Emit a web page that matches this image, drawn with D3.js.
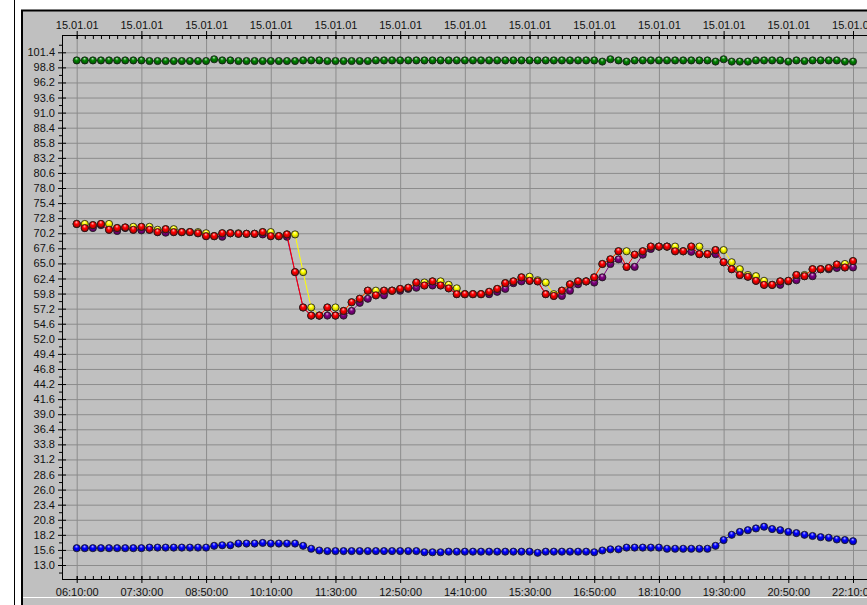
<!DOCTYPE html>
<html>
<head>
<meta charset="utf-8">
<script src="https://cdn.jsdelivr.net/npm/d3@7"></script>
<style>
  body { margin: 0; background: #fff; }
  svg { display: block; }
  text { font-family: "Liberation Sans", Arial, sans-serif; font-size: 11px; fill: #111; }
</style>
</head>
<body>
<svg width="867" height="605"></svg>
<script>
// readings every 10 minutes, 15.01.01 06:10 .. 22:10
var startTime = "2001-01-15 06:10";
var stepMinutes = 10;

var xTickLabels = ["06:10:00", "07:30:00", "08:50:00", "10:10:00", "11:30:00", "12:50:00", "14:10:00",
  "15:30:00", "16:50:00", "18:10:00", "19:30:00", "20:50:00", "22:10:00"];

var yTicks = [13.0, 15.6, 18.2, 20.8, 23.4, 26.0, 28.6, 31.2, 33.8, 36.4, 39.0, 41.6, 44.2, 46.8, 49.4,
  52.0, 54.6, 57.2, 59.8, 62.4, 65.0, 67.6, 70.2, 72.8, 75.4, 78.0, 80.6, 83.2, 85.8, 88.4, 91.0,
  93.6, 96.2, 98.8, 101.4];

var green = [100.0, 100.0, 100.0, 100.0, 100.0, 100.0, 100.0, 100.0, 100.0,
  99.9, 99.9, 99.9, 99.9, 99.9, 99.9, 99.9, 99.9,
  100.2, 100.0, 100.0,
  99.9, 99.9, 99.9, 99.9, 99.9, 99.9, 99.9, 99.9,
  100.0, 100.0, 100.0,
  99.9, 99.9, 99.9, 99.9, 99.9, 99.9,
  100.0, 100.0, 100.0, 100.0, 100.0, 100.0, 100.0, 100.0,
  100.0, 100.0, 100.0, 100.0, 100.0, 100.0, 100.0, 100.0, 100.0, 100.0,
  100.0, 100.0, 100.0, 100.0, 100.0, 100.0, 100.0, 100.0, 100.0, 100.0,
  99.8, 100.2, 100.0, 99.8,
  100.0, 100.0, 100.0, 100.0, 100.0, 100.0, 100.0, 100.0, 100.0, 100.0,
  99.8, 100.2, 99.8, 99.8, 99.8,
  100.0, 100.0, 100.0, 100.0,
  99.8, 100.0, 99.9,
  100.0, 100.0, 100.0, 100.0,
  99.8, 99.8];

var blue = [15.9, 15.9, 15.9, 15.9, 15.9, 15.9, 15.9, 15.9, 15.9,
  16.0, 16.0, 16.0, 16.0, 16.0, 16.0, 16.0, 16.0,
  16.3, 16.4, 16.4, 16.7, 16.7, 16.7, 16.8, 16.7, 16.7, 16.7, 16.7,
  16.3, 15.8, 15.5,
  15.4, 15.4, 15.4, 15.4, 15.4, 15.4, 15.4, 15.4, 15.4, 15.4, 15.4, 15.4,
  15.2, 15.2, 15.2,
  15.3, 15.3, 15.3, 15.3, 15.3, 15.3, 15.3, 15.3, 15.3, 15.3, 15.3,
  15.1, 15.3, 15.3, 15.3, 15.3, 15.3, 15.3,
  15.2, 15.5, 15.7, 15.7, 16.0, 16.0, 16.0, 16.0, 16.0,
  15.8, 15.8, 15.8, 15.8, 15.8, 15.8, 16.3,
  17.3, 18.2, 18.7, 19.0, 19.3, 19.6, 19.2, 19.0, 18.7, 18.5, 18.2, 18.0, 17.8, 17.7, 17.4, 17.3, 17.1];

var purple = [71.8, 71.1, 71.1, 71.6, 70.8, 70.6, 71.1, 70.8, 70.7, 70.8,
  70.4, 70.3, 70.4, 70.4, 70.4, 70.2, 69.7, 69.7, 69.6, 70.2,
  70.1, 70.1, 70.1, 70.0, 69.7, 69.7, 69.6, 63.5, 57.4, 56.0,
  56.0, 56.0, 56.0, 56.0, 56.8, 58.2, 58.9, 59.5, 59.5, 60.3,
  60.3, 60.6, 60.8, 61.2, 61.2, 61.2, 60.7, 59.7, 59.7, 59.7,
  59.7, 59.7, 60.1, 60.6, 61.6, 61.9, 62.0, 61.9, 59.7, 59.4,
  59.4, 60.3, 61.4, 61.9, 61.7, 62.6, 64.9, 65.7, 64.4, 64.4,
  66.5, 67.5, 67.9, 67.9, 67.1, 67.1, 67.0, 66.6, 66.6, 66.6,
  65.2, 64.0, 63.0, 62.7, 62.0, 61.3, 61.3, 61.3, 61.9, 62.1,
  62.8, 62.8, 64.0, 64.0, 64.2, 64.3, 64.3];

var yellow = [71.8, 71.8, 71.6, 71.8, 71.8, 71.1, 71.2, 71.3, 71.3, 71.3,
  70.8, 70.9, 70.9, 70.4, 70.4, 70.4, 70.2, 69.7, 70.2, 70.2,
  70.2, 70.1, 70.1, 70.4, 70.4, 69.7, 70.0, 70.0, 63.5, 57.4,
  56.0, 57.4, 57.4, 56.8, 58.3, 58.9, 60.3, 60.3, 60.3, 60.3,
  60.6, 60.8, 61.7, 61.7, 61.9, 61.9, 61.3, 60.7, 59.7, 59.7,
  59.7, 60.1, 60.6, 61.6, 61.9, 62.6, 62.7, 62.1, 61.7, 59.7,
  60.3, 61.4, 61.9, 61.9, 62.6, 64.9, 65.7, 67.1, 67.1, 66.5,
  67.1, 67.9, 67.9, 67.9, 67.9, 67.1, 67.9, 67.9, 66.6, 67.3,
  67.3, 65.2, 64.0, 63.0, 62.8, 62.0, 61.3, 61.9, 62.0, 63.0,
  63.0, 64.0, 64.0, 64.2, 64.8, 64.9, 65.4];

var red = [71.8, 71.1, 71.6, 71.8, 70.8, 71.1, 71.2, 70.8, 71.3, 70.8,
  70.4, 70.9, 70.4, 70.4, 70.4, 70.2, 69.7, 69.7, 70.2, 70.2,
  70.1, 70.1, 70.1, 70.4, 69.7, 69.7, 70.0, 63.5, 57.4, 56.0,
  56.0, 57.4, 56.0, 56.8, 58.3, 58.9, 60.3, 59.5, 60.3, 60.3,
  60.6, 60.8, 61.7, 61.2, 61.9, 61.2, 60.7, 59.7, 59.7, 59.7,
  59.7, 60.1, 60.6, 61.6, 61.9, 62.6, 62.0, 61.9, 59.7, 59.4,
  60.3, 61.4, 61.9, 61.9, 62.6, 64.9, 65.7, 67.1, 64.4, 66.5,
  67.1, 67.9, 67.9, 67.9, 67.1, 67.1, 67.9, 66.6, 66.6, 67.3,
  65.2, 64.0, 63.0, 62.7, 62.0, 61.3, 61.3, 61.9, 62.0, 63.0,
  62.8, 64.0, 64.0, 64.2, 64.8, 64.3, 65.4];

var svg = d3.select("svg"),
  width = 867,
  height = 605;

// plot frame
var plotLeft = 62, plotTop = 35, plotBottom = 579, plotRight = width;

var parseStart = d3.timeParse("%Y-%m-%d %H:%M");
var parseTick = d3.timeParse("%Y-%m-%d %H:%M:%S");
var t0 = parseStart(startTime);
var times = red.map(function (d, i) { return d3.timeMinute.offset(t0, i * stepMinutes); });
var xMajor = xTickLabels.map(function (s) { return parseTick("2001-01-15 " + s); });

var x = d3.scaleTime()
  .domain([xMajor[0], xMajor[xMajor.length - 1]])
  .range([76.7, 853]);

var y = d3.scaleLinear()
  .domain([13.0, 101.4])
  .range([565, 52.3]);

// window panel
svg.append("rect").attr("x", 22).attr("y", 10).attr("width", width - 22).attr("height", height - 10)
  .attr("fill", "#c0c0c0");
svg.append("line").attr("x1", 14.5).attr("x2", 14.5).attr("y1", 0).attr("y2", height)
  .attr("stroke", "#000");
svg.append("line").attr("x1", 21).attr("x2", width).attr("y1", 10.5).attr("y2", 10.5)
  .attr("stroke", "#000").attr("stroke-width", 2);
svg.append("line").attr("x1", 22).attr("x2", 22).attr("y1", 10).attr("y2", height)
  .attr("stroke", "#000").attr("stroke-width", 2);
svg.append("line").attr("x1", 23).attr("x2", width).attr("y1", 597.5).attr("y2", 597.5)
  .attr("stroke", "#fff");

// gradients for the ball markers
var defs = svg.append("defs");
var series = [
  { key: "green", values: green, color: "#008000", line: "#008000" },
  { key: "blue", values: blue, color: "#0000ff", line: "#0000ff" },
  { key: "purple", values: purple, color: "#800080", line: "#800080" },
  { key: "yellow", values: yellow, color: "#ffff00", line: "#ffff00" },
  { key: "red", values: red, color: "#ff0000", line: "#ff0000" }
];
series.forEach(function (s) {
  var g = defs.append("radialGradient").attr("id", "ball-" + s.key)
    .attr("cx", "50%").attr("cy", "45%").attr("r", "60%")
    .attr("fx", "45%").attr("fy", "22%");
  g.append("stop").attr("offset", "0%").attr("stop-color", d3.interpolateRgb(s.color, "#fff")(0.75));
  g.append("stop").attr("offset", "40%").attr("stop-color", s.color);
  g.append("stop").attr("offset", "100%").attr("stop-color", d3.color(s.color).darker(1.3));
});

// grid
svg.append("g")
  .attr("transform", "translate(0," + plotBottom + ")")
  .call(d3.axisBottom(x).tickValues(xMajor).tickSize(-(plotBottom - plotTop)).tickFormat(""))
  .call(function (g) { g.select(".domain").remove(); })
  .selectAll(".tick line").attr("stroke", "#8c8c8c");

svg.append("g")
  .attr("transform", "translate(" + plotLeft + ",0)")
  .call(d3.axisLeft(y).tickValues(yTicks).tickSize(-(plotRight - plotLeft)).tickFormat(""))
  .call(function (g) { g.select(".domain").remove(); })
  .selectAll(".tick line").attr("stroke", "#8c8c8c");

// axis lines
svg.append("line").attr("x1", plotLeft + 0.5).attr("x2", plotLeft + 0.5)
  .attr("y1", plotTop).attr("y2", plotBottom + 0.5).attr("stroke", "#000");
svg.append("line").attr("x1", plotLeft).attr("x2", plotRight)
  .attr("y1", plotTop + 0.5).attr("y2", plotTop + 0.5).attr("stroke", "#000");
svg.append("line").attr("x1", plotLeft).attr("x2", plotRight)
  .attr("y1", plotBottom + 0.5).attr("y2", plotBottom + 0.5).attr("stroke", "#000");

// minor ticks
var yMinor = [11.7].concat(yTicks.map(function (v) { return v + 1.3; }));

svg.append("g")
  .attr("transform", "translate(0," + plotBottom + ")")
  .call(d3.axisBottom(x).tickValues(times).tickSize(-3).tickFormat(""))
  .call(function (g) { g.select(".domain").remove(); });

svg.append("g")
  .attr("transform", "translate(0," + plotTop + ")")
  .call(d3.axisTop(x).tickValues(times).tickSize(-4).tickFormat(""))
  .call(function (g) { g.select(".domain").remove(); });

svg.append("g")
  .attr("transform", "translate(" + plotLeft + ",0)")
  .call(d3.axisLeft(y).tickValues(yMinor).tickSize(3).tickFormat(""))
  .call(function (g) { g.select(".domain").remove(); });

// major axes with labels
var xBottom = svg.append("g")
  .attr("transform", "translate(0," + plotBottom + ")")
  .call(d3.axisBottom(x).tickValues(xMajor).tickSize(4).tickPadding(5)
    .tickFormat(d3.timeFormat("%H:%M:%S")));
xBottom.select(".domain").remove();
xBottom.selectAll(".tick line").attr("y1", -3).attr("y2", 4).attr("stroke", "#000");

var xTop = svg.append("g")
  .attr("transform", "translate(0," + plotTop + ")")
  .call(d3.axisTop(x).tickValues(xMajor).tickSize(4).tickPadding(2)
    .tickFormat(d3.timeFormat("%d.%m.%y")));
xTop.select(".domain").remove();
xTop.selectAll(".tick line").attr("y1", -4).attr("y2", 4).attr("stroke", "#000");

var yLeft = svg.append("g")
  .attr("transform", "translate(" + plotLeft + ",0)")
  .call(d3.axisLeft(y).tickValues(yTicks).tickSize(4).tickPadding(3)
    .tickFormat(d3.format(".1f")));
yLeft.select(".domain").remove();
yLeft.selectAll(".tick line").attr("x1", -4).attr("x2", 4).attr("stroke", "#000");

svg.selectAll(".tick text").attr("fill", "#111")
  .style("font-family", '"Liberation Sans", Arial, sans-serif').style("font-size", "11px");

// series: line then balls
var line = d3.line()
  .x(function (d, i) { return x(times[i]); })
  .y(function (d) { return y(d); });

series.forEach(function (s) {
  var g = svg.append("g").attr("class", "series-" + s.key);
  g.append("path")
    .datum(s.values)
    .attr("fill", "none")
    .attr("stroke", s.line)
    .attr("stroke-width", 1)
    .attr("d", line);
  g.selectAll("circle")
    .data(s.values)
    .enter().append("circle")
    .attr("cx", function (d, i) { return x(times[i]); })
    .attr("cy", function (d) { return y(d); })
    .attr("r", 3.6)
    .attr("fill", "url(#ball-" + s.key + ")")
    .attr("stroke", "#1a1a1a")
    .attr("stroke-width", 0.8);
});
</script>
</body>
</html>
